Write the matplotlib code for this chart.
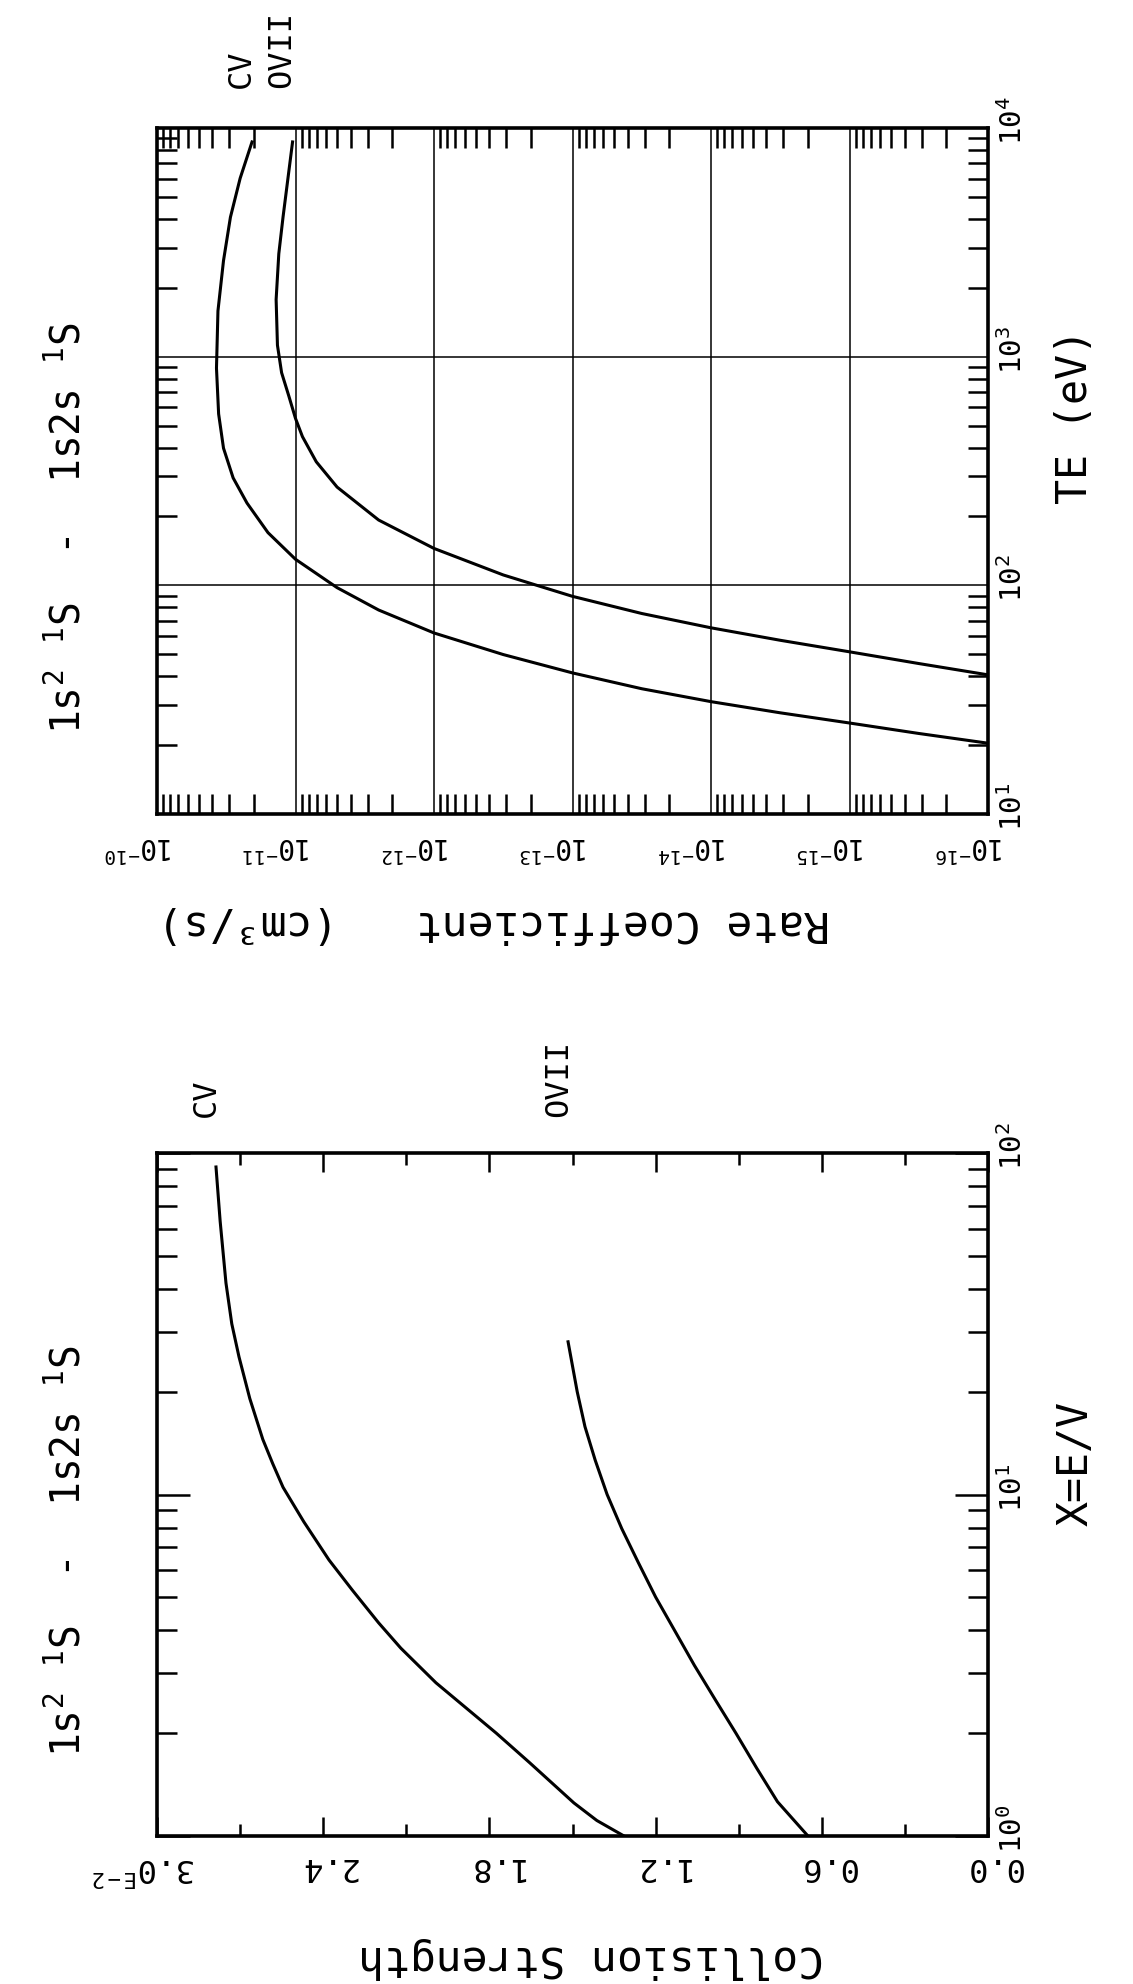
import numpy as np
import matplotlib
matplotlib.use("Agg")
import matplotlib.pyplot as plt
from matplotlib import ticker
from matplotlib.transforms import ScaledTranslation

plt.rcParams["font.family"] = ["DejaVu Sans Mono", "DejaVu Sans"]
plt.rcParams["mathtext.fontset"] = "custom"
plt.rcParams["mathtext.rm"] = "DejaVu Sans Mono"
plt.rcParams["mathtext.it"] = "DejaVu Sans Mono"
plt.rcParams["mathtext.bf"] = "DejaVu Sans Mono:bold"

# --- rate coefficient (cm^3/s) vs electron temperature TE (eV)
te_cv = [20.4, 22.5, 25.0, 27.7, 31.0, 35.3, 41.4, 49.8, 61.9, 78.0, 97.7,
         130, 170, 229, 295, 398, 562, 891, 1585, 2630, 4074, 6026, 8690]
rate_cv = [1e-16, 3.16e-16, 1e-15, 3.16e-15, 1e-14, 3.16e-14, 1e-13, 3.16e-13,
           1e-12, 2.51e-12, 5.01e-12, 1e-11, 1.58e-11, 2.24e-11, 2.82e-11,
           3.31e-11, 3.59e-11, 3.72e-11, 3.63e-11, 3.31e-11, 2.95e-11,
           2.51e-11, 2.06e-11]
te_ovii = [40.6, 45.5, 51.2, 57.5, 65.2, 75.3, 89.5, 111, 145, 193, 269, 347,
           447, 537, 676, 851, 1122, 1778, 2818, 4083, 8690]
rate_ovii = [1e-16, 3.16e-16, 1e-15, 3.16e-15, 1e-14, 3.16e-14, 1e-13,
             3.16e-13, 1e-12, 2.51e-12, 5.01e-12, 7.08e-12, 8.91e-12, 1e-11,
             1.12e-11, 1.26e-11, 1.35e-11, 1.38e-11, 1.32e-11, 1.23e-11, 1.05e-11]

# --- collision strength (units of 1E-2) vs X = E/V
x_cv = [1.0, 1.11, 1.25, 1.64, 2.0, 2.81, 3.55, 4.21, 5.25, 6.43, 8.32, 10.5,
        12.3, 14.5, 19.1, 25.3, 31.6, 41.6, 63.1, 91]
cs_cv = [1.314, 1.412, 1.495, 1.655, 1.775, 1.993, 2.12, 2.20, 2.295, 2.379,
         2.47, 2.545, 2.582, 2.618, 2.665, 2.704, 2.73, 2.751, 2.772, 2.787]
x_ovii = [1.0, 1.26, 1.58, 2.0, 2.51, 3.16, 3.98, 5.01, 6.31, 7.94, 10, 12.6,
          15.8, 20, 28]
cs_ovii = [0.65, 0.76, 0.835, 0.91, 0.985, 1.06, 1.13, 1.20, 1.262, 1.322,
           1.375, 1.418, 1.455, 1.483, 1.516]

rate_ticks = [1e-10, 1e-11, 1e-12, 1e-13, 1e-14, 1e-15, 1e-16]
te_ticks = [10, 100, 1000, 10000]
x_ticks = [1, 10, 100]
cs_ticks = [0.0, 0.6, 1.2, 1.8, 2.4, 3.0]
cs_labels = ["0.0", "0.6", "1.2", "1.8", "2.4", r"$\mathdefault{3.0^{E-2}}$"]
title = r"1s$^{2}$ $^{1}$S  -  1s2s $^{1}$S"

W, H = 1133, 1984
fig = plt.figure(figsize=(W / 100, H / 100), dpi=100)
ax_r = fig.add_axes([157 / W, 1 - 814 / H, 831 / W, 686 / H])
ax_c = fig.add_axes([157 / W, 1 - 1836 / H, 831 / W, 683 / H])


def shift(labels, dx_px, dy_px):
    off = ScaledTranslation(dx_px / 100, dy_px / 100, fig.dpi_scale_trans)
    for lbl in labels:
        lbl.set_transform(lbl.get_transform() + off)


for ax in (ax_r, ax_c):
    for sp in ax.spines.values():
        sp.set_linewidth(2.6)
    ax.tick_params(which="both", direction="in", top=True, bottom=True,
                   left=True, right=True, labelleft=False, labelright=True,
                   labelbottom=True, labeltop=False, width=1.8, color="k")

# upper panel: rate coefficient
ax_r.plot(rate_cv, te_cv, color="k", lw=2.2)
ax_r.plot(rate_ovii, te_ovii, color="k", lw=2.2)
ax_r.set_xscale("log")
ax_r.set_yscale("log")
ax_r.set_xlim(1e-10, 1e-16)
ax_r.set_ylim(10, 1e4)
ax_r.xaxis.set_major_locator(ticker.FixedLocator(rate_ticks))
ax_r.yaxis.set_major_locator(ticker.FixedLocator(te_ticks))
for axis in (ax_r.xaxis, ax_r.yaxis):
    axis.set_major_formatter(ticker.LogFormatterMathtext())
    axis.set_minor_locator(ticker.LogLocator(base=10, subs=np.arange(2, 10), numticks=20))
    axis.set_minor_formatter(ticker.NullFormatter())
ax_r.grid(True, which="major", color="k", lw=1.1)
ax_r.tick_params(which="major", length=0)
ax_r.tick_params(which="minor", length=14.5)
ax_r.tick_params(axis="x", labelsize=20, labelrotation=180, pad=12)
ax_r.tick_params(axis="y", labelsize=21, labelrotation=90, pad=7)
plt.setp(ax_r.get_yticklabels(), va="center")
shift(ax_r.get_xticklabels(), -18, 0)
shift(ax_r.get_yticklabels(), 0, 7)

ax_r.set_xlabel("Rate Coefficient   (cm³/s)", fontsize=31, rotation=180,
                rotation_mode="default", ha="center", va="top")
ax_r.xaxis.set_label_coords(0.4055, -0.128)
ax_r.yaxis.set_label_position("right")
ax_r.set_ylabel("TE (eV)", fontsize=30, rotation=90,
                rotation_mode="default", ha="left", va="center")
ax_r.yaxis.set_label_coords(1.08, 0.579)
ax_r.text(-0.081, 0.417, title, transform=ax_r.transAxes, fontsize=28.5,
          rotation=90, rotation_mode="default", ha="right", va="center")
ax_r.annotate("CV", xy=(rate_cv[-1], 1), xycoords=("data", "axes fraction"),
              xytext=(-8, 29), textcoords="offset points", rotation=90,
              ha="center", va="bottom", fontsize=23)
ax_r.annotate("OVII", xy=(rate_ovii[-1], 1), xycoords=("data", "axes fraction"),
              xytext=(-8, 29), textcoords="offset points", rotation=90,
              ha="center", va="bottom", fontsize=23)

# lower panel: collision strength
ax_c.plot(cs_cv, x_cv, color="k", lw=2.2)
ax_c.plot(cs_ovii, x_ovii, color="k", lw=2.2)
ax_c.set_yscale("log")
ax_c.set_xlim(3.0, 0.0)
ax_c.set_ylim(1, 100)
ax_c.set_xticks(cs_ticks, cs_labels)
ax_c.xaxis.set_minor_locator(ticker.MultipleLocator(0.3))
ax_c.yaxis.set_major_locator(ticker.FixedLocator(x_ticks))
ax_c.yaxis.set_major_formatter(ticker.LogFormatterMathtext())
ax_c.yaxis.set_minor_locator(ticker.LogLocator(base=10, subs=np.arange(2, 10), numticks=10))
ax_c.yaxis.set_minor_formatter(ticker.NullFormatter())
ax_c.tick_params(axis="x", which="major", length=13.5)
ax_c.tick_params(axis="x", which="minor", length=8.5)
ax_c.tick_params(axis="y", which="major", length=24)
ax_c.tick_params(axis="y", which="minor", length=14.5)
ax_c.tick_params(axis="x", labelsize=23, labelrotation=180, pad=11)
ax_c.tick_params(axis="y", labelsize=21, labelrotation=90, pad=7)
plt.setp(ax_c.get_yticklabels(), va="center")
cs_text = ax_c.get_xticklabels()
shift(cs_text[:-1], 5, 0)
shift(cs_text[-1:], -13, 0)
shift(ax_c.get_yticklabels(), 0, 7)

ax_c.set_xlabel("Collision Strength", fontsize=31, rotation=180,
                rotation_mode="default", ha="center", va="top")
ax_c.xaxis.set_label_coords(0.522, -0.148)
ax_c.yaxis.set_label_position("right")
ax_c.set_ylabel("X=E/V", fontsize=30, rotation=90,
                rotation_mode="default", ha="left", va="center")
ax_c.yaxis.set_label_coords(1.08, 0.546)
ax_c.text(-0.081, 0.417, title, transform=ax_c.transAxes, fontsize=28.5,
          rotation=90, rotation_mode="default", ha="right", va="center")
ax_c.annotate("CV", xy=(cs_cv[-1], 1), xycoords=("data", "axes fraction"),
              xytext=(-7, 26), textcoords="offset points", rotation=90,
              ha="center", va="bottom", fontsize=23)
ax_c.annotate("OVII", xy=(cs_ovii[-1], 1), xycoords=("data", "axes fraction"),
              xytext=(-7, 26), textcoords="offset points", rotation=90,
              ha="center", va="bottom", fontsize=23)

fig.savefig("out.png", dpi=100, facecolor="white")
